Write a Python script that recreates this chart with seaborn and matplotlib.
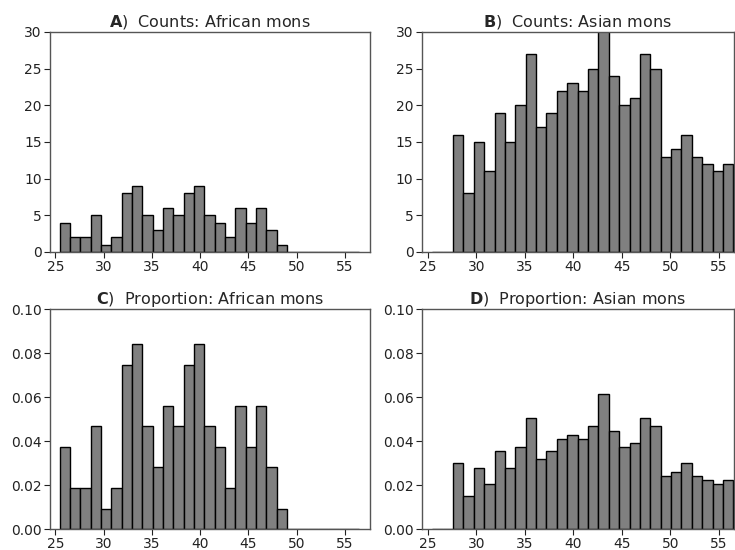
import numpy as np
import pandas as pd
import matplotlib
matplotlib.use("Agg")
import matplotlib.pyplot as plt
import seaborn as sns

# ---- data ----
bin_start = 25.45
bin_width = 1.07
n_bins = 29

african_counts = [4, 2, 2, 5, 1, 2, 8, 9, 5, 3, 6, 5, 8, 9, 5, 4, 2, 6, 4, 6, 3, 1,
                  0, 0, 0, 0, 0, 0, 0]
asian_counts = [0, 0, 16, 8, 15, 11, 19, 15, 20, 27, 17, 19, 22, 23, 22, 25, 33, 24,
                20, 21, 27, 25, 13, 14, 16, 13, 12, 11, 12]
african_total = 107
asian_total = 536

count_ticks = [0, 5, 10, 15, 20, 25, 30]
prop_ticks = [0.00, 0.02, 0.04, 0.06, 0.08, 0.10]
x_ticks = [25, 30, 35, 40, 45, 50, 55]

titles = {
    "A": "Counts: African mons",
    "B": "Counts: Asian mons",
    "C": "Proportion: African mons",
    "D": "Proportion: Asian mons",
}

# ---- figure ----
sns.set_style("white")
plt.rcParams["font.family"] = ["DejaVu Sans"]
plt.rcParams["axes.edgecolor"] = "#555555"
plt.rcParams["axes.linewidth"] = 1.0
plt.rcParams["xtick.color"] = "#222222"
plt.rcParams["ytick.color"] = "#222222"
plt.rcParams["xtick.bottom"] = True
plt.rcParams["ytick.left"] = True

edges = [bin_start + bin_width * i for i in range(n_bins + 1)]
centers = [(edges[i] + edges[i + 1]) / 2 for i in range(n_bins)]

fig = plt.figure(figsize=(7.35, 5.5), dpi=100)
axA = fig.add_axes([0.068, 0.542, 0.435, 0.400])
axB = fig.add_axes([0.574, 0.542, 0.424, 0.400])
axC = fig.add_axes([0.068, 0.038, 0.435, 0.400])
axD = fig.add_axes([0.574, 0.038, 0.424, 0.400])

panels = [
    (axA, "A", np.array(african_counts, float), (24.45, 57.56), (0, 30), count_ticks, "{:d}"),
    (axB, "B", np.array(asian_counts, float), (24.38, 56.5), (0, 30), count_ticks, "{:d}"),
    (axC, "C", np.array(african_counts, float) / african_total, (24.45, 57.56), (0, 0.10), prop_ticks, "{:.2f}"),
    (axD, "D", np.array(asian_counts, float) / asian_total, (24.38, 56.5), (0, 0.10), prop_ticks, "{:.2f}"),
]

for ax, letter, w, xl, yl, yt, fmt in panels:
    df = pd.DataFrame({"x": centers, "w": w})
    sns.histplot(data=df, x="x", weights="w", bins=edges, ax=ax,
                 color="#808080", edgecolor="black", linewidth=1.0, alpha=1.0)
    ax.set_xlim(*xl)
    ax.set_ylim(*yl)
    ax.set_xticks(x_ticks)
    ax.set_yticks(yt)
    ax.set_yticklabels([fmt.format(v) for v in yt])
    ax.set_xlabel("")
    ax.set_ylabel("")
    ax.tick_params(axis="both", labelsize=10, length=4, width=0.8, pad=2)
    ax.set_title(r"$\bf{" + letter + "}$)  " + titles[letter], fontsize=11.5, pad=4)

fig.savefig("out.png", dpi=100)
